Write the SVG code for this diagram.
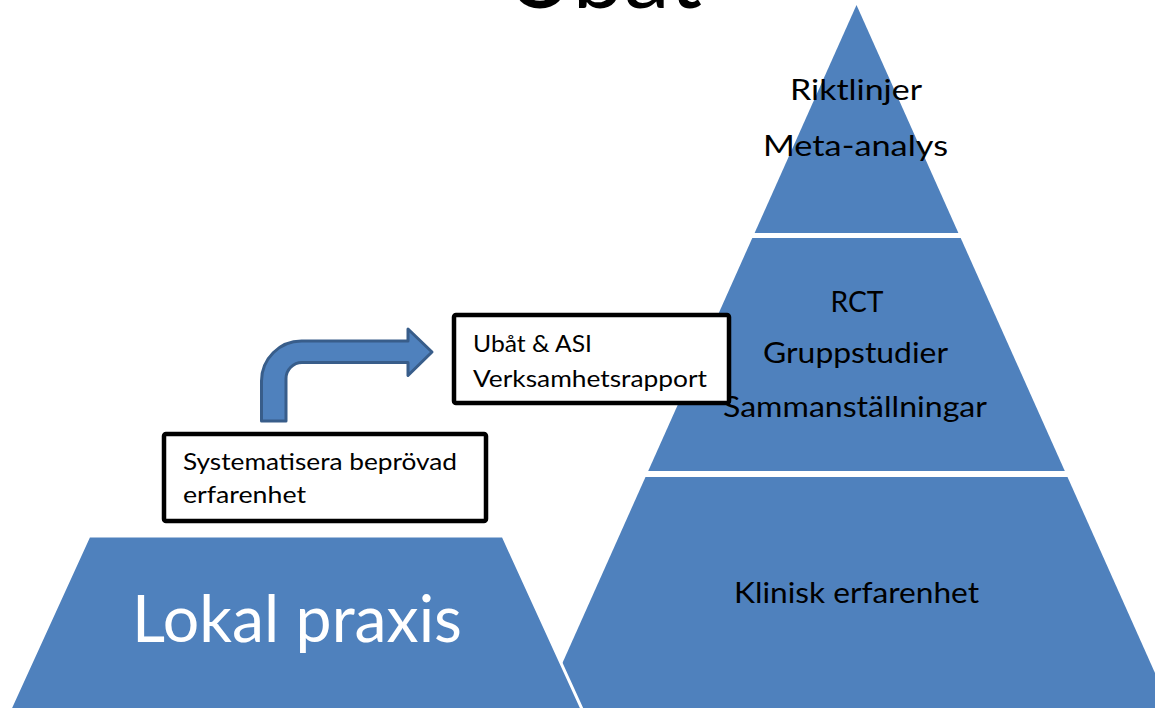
<svg xmlns="http://www.w3.org/2000/svg" width="1155" height="708" viewBox="0 0 1155 708">
  <style>
    .blk { fill: #4F81BD; }
    .lp { fill: #4F81BD; stroke: #FFFFFF; stroke-width: 3; stroke-linejoin: miter; }
    .box { fill: #FFFFFF; stroke: #000000; stroke-width: 4.5; }
    .t { font-family: Lato, "Open Sans", "Liberation Sans", sans-serif; fill: #000000; }
    .pt { font-size: 28px; text-anchor: middle; }
    .bt { font-size: 23px; }
    .arrow { fill: #4F81BD; stroke: #385D8A; stroke-width: 3; stroke-linejoin: round; }
  </style>
  <rect x="0" y="0" width="1155" height="708" fill="#FFFFFF"/>

  <g id="title">
    <text class="t" x="604" y="8" font-size="90" text-anchor="middle" textLength="196" lengthAdjust="spacingAndGlyphs">Ubåt</text>
  </g>

  <g id="pyramid-top">
    <polygon class="blk" points="856.5,5 958.4,233 754.6,233"/>
    <text class="t pt" x="856" y="100" textLength="132" lengthAdjust="spacingAndGlyphs">Riktlinjer</text>
    <text class="t pt" x="855.5" y="156" textLength="185" lengthAdjust="spacingAndGlyphs">Meta-analys</text>
  </g>

  <g id="pyramid-middle">
    <polygon class="blk" points="752.3,238 960.7,238 1064.8,471 648.2,471"/>
    <text class="t pt" x="857" y="312" textLength="53" lengthAdjust="spacingAndGlyphs">RCT</text>
    <text class="t pt" x="855.5" y="363" textLength="185" lengthAdjust="spacingAndGlyphs">Gruppstudier</text>
    <text class="t pt" x="855" y="417" textLength="264" lengthAdjust="spacingAndGlyphs">Sammanställningar</text>
  </g>

  <g id="pyramid-bottom">
    <polygon class="blk" points="645.5,477 1067.5,477 1176,720 537,720"/>
    <text class="t pt" x="856.5" y="603" textLength="245" lengthAdjust="spacingAndGlyphs">Klinisk erfarenhet</text>
  </g>

  <g id="lokal-praxis">
    <polygon class="lp" points="89,536 503,536 587,720 5,720"/>
    <text class="t" x="297" y="642" font-size="65" fill="#FFFFFF" style="fill:#FFFFFF" text-anchor="middle" textLength="330" lengthAdjust="spacingAndGlyphs">Lokal praxis</text>
  </g>

  <g id="connectors">
    <path class="arrow" d="M261.5,421 L261.5,381 A40,40 0 0 1 301.5,341 L408,341 L408,329 L432,352 L408,375.5 L408,362.5 L302,362.5 A16,16 0 0 0 286,378.5 L286,421 Z"/>
  </g>

  <g id="box-systematisera">
    <rect class="box" x="164" y="434" width="322" height="87" rx="2"/>
    <text class="t bt" x="183" y="470" textLength="274" lengthAdjust="spacingAndGlyphs">Systematisera beprövad</text>
    <text class="t bt" x="183" y="503" textLength="123" lengthAdjust="spacingAndGlyphs">erfarenhet</text>
  </g>

  <g id="box-ubat">
    <rect class="box" x="454" y="315" width="275" height="88" rx="2"/>
    <text class="t bt" x="473" y="352" textLength="119" lengthAdjust="spacingAndGlyphs">Ubåt &amp; ASI</text>
    <text class="t bt" x="473" y="387" textLength="234" lengthAdjust="spacingAndGlyphs">Verksamhetsrapport</text>
  </g>
</svg>
